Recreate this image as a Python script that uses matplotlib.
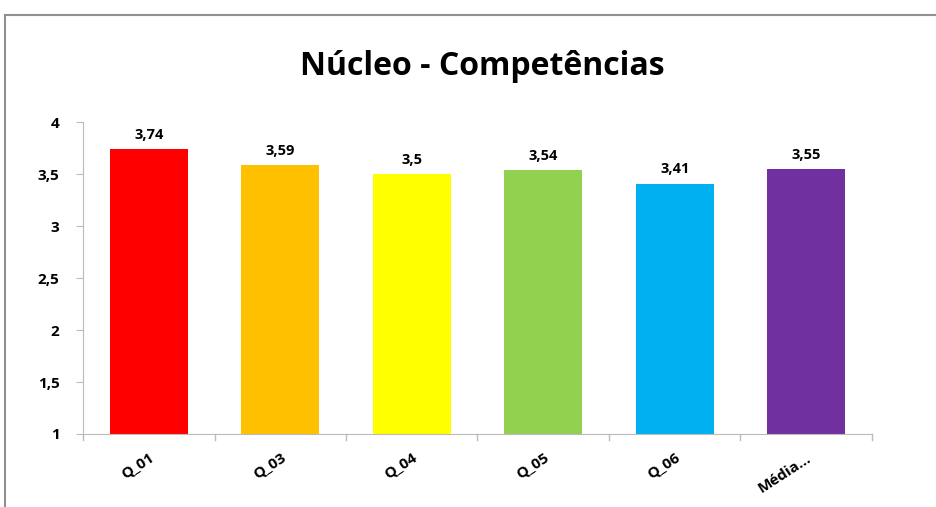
import matplotlib.pyplot as plt
from matplotlib.lines import Line2D

# Data
categories = ['Q_01', 'Q_03', 'Q_04', 'Q_05', 'Q_06', 'Média...']
values = [3.74, 3.59, 3.5, 3.54, 3.41, 3.55]
colors = ['#FF0000', '#FFC000', '#FFFF00', '#92D050', '#00B0F0', '#7030A0']
yticks = [1, 1.5, 2, 2.5, 3, 3.5, 4]

plt.rcParams['font.family'] = ['Open Sans', 'DejaVu Sans']

fig = plt.figure(figsize=(9.37, 5.07), dpi=100)
ax = fig.add_axes([0.0886, 0.144, 0.842, 0.615])

x = range(len(categories))
ax.bar(x, values, width=0.59, color=colors, bottom=0, zorder=2)
ax.set_ylim(1, 4)
ax.set_xlim(-0.5, len(categories) - 0.5)

for i, v in zip(x, values):
    ax.text(i, v + 0.07, '{:g}'.format(v).replace('.', ','), ha='center', va='bottom',
            fontsize=10.5, fontweight='bold')

ax.set_yticks(yticks)
ax.set_yticklabels(['{:g}'.format(t).replace('.', ',') for t in yticks],
                   fontsize=11, fontweight='bold')
ax.set_xticks(x)
ax.set_xticklabels(categories, rotation=33, ha='right', rotation_mode='anchor',
                   fontsize=11, fontweight='bold')
ax.tick_params(axis='x', length=0, pad=12)
ax.tick_params(axis='y', length=5, color='#BBBBBB', pad=12)
# category boundary ticks on x axis
for b in range(len(categories) + 1):
    ax.plot([b - 0.5, b - 0.5], [1, 0.94], color='#BBBBBB', lw=1,
            clip_on=False, zorder=1)

for s in ['top', 'right']:
    ax.spines[s].set_visible(False)
ax.spines['left'].set_color('#BBBBBB')
ax.spines['bottom'].set_color('#BBBBBB')

fig.text(0.515, 0.868, 'Núcleo - Competências', ha='center', va='center',
         fontsize=23, fontweight='bold')

# outer frame (top and left edges visible)
fig.add_artist(Line2D([0.0053, 1.0], [0.970, 0.970], color='#909090', lw=1.5,
                      transform=fig.transFigure))
fig.add_artist(Line2D([0.0053, 0.0053], [0.0, 0.970], color='#909090', lw=1.5,
                      transform=fig.transFigure))

fig.savefig('out.png', dpi=100)
